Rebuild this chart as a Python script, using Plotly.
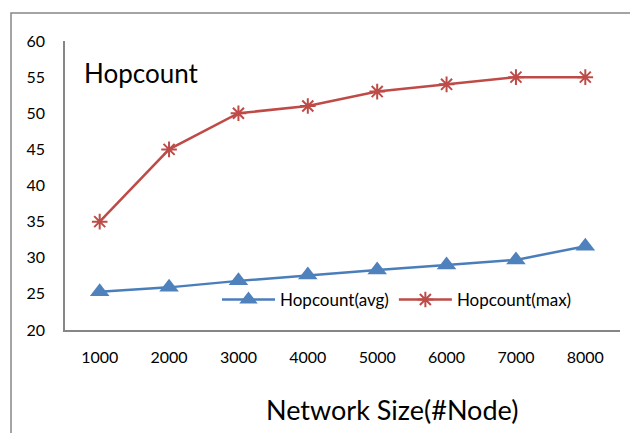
import plotly.graph_objects as go

categories = ["1000", "2000", "3000", "4000", "5000", "6000", "7000", "8000"]
hop_avg = [25.3, 25.9, 26.8, 27.6, 28.3, 29.0, 29.7, 31.6]
hop_max = [35, 45, 50, 51, 53, 54, 55, 55]
y_ticks = [20, 25, 30, 35, 40, 45, 50, 55, 60]

FONT = "Lato"
AXIS_GREY = "#868686"

# page body has an 8px margin: work in figure coordinates shifted by 8px
OFF = 8
W, H = 630, 425
L, T, R, B = 65 - OFF, 41 - OFF, 620 - OFF, 330 - OFF
PW, PH = R - L, B - T


def px(x):
    return (x - OFF - L) / PW


def py(y):
    return (B - (y - OFF)) / PH


fig = go.Figure()
fig.add_trace(go.Scatter(
    x=categories, y=hop_avg, name="Hopcount(avg)", mode="lines+markers",
    line=dict(color="#4A7EBB", width=2.5),
    marker=dict(symbol="triangle-up", size=17, color="#4F81BD"),
))
fig.add_trace(go.Scatter(
    x=categories, y=hop_max, name="Hopcount(max)", mode="lines+markers",
    line=dict(color="#BE4B48", width=2.5),
    marker=dict(symbol="asterisk-open", size=13, color="#BE4B48",
                line=dict(color="#BE4B48", width=2)),
))

fig.update_layout(
    width=W, height=H,
    margin=dict(l=L, r=W - R, t=T, b=H - B),
    paper_bgcolor="white", plot_bgcolor="white",
    font=dict(family=FONT, size=16, color="black"),
    showlegend=True,
    legend=dict(orientation="h", x=px(217), y=py(300), xanchor="left", yanchor="middle",
                font=dict(size=17, family=FONT), bgcolor="rgba(0,0,0,0)",
                itemwidth=53, tracegroupgap=0),
    xaxis=dict(type="category", range=[-0.5, 7.5], showgrid=False, zeroline=False,
               showline=True, linecolor=AXIS_GREY, linewidth=1.5, ticks="",
               ticklabelstandoff=12, tickfont=dict(size=16, family=FONT)),
    yaxis=dict(range=[20, 60], tickvals=y_ticks, showgrid=False, zeroline=False,
               showline=True, linecolor=AXIS_GREY, linewidth=1.5, ticks="",
               ticklabelstandoff=15, tickfont=dict(size=16, family=FONT)),
    shapes=[dict(type="rect", xref="paper", yref="paper",
                 x0=px(11), x1=px(680), y0=py(480), y1=py(13),
                 line=dict(color=AXIS_GREY, width=1.5), layer="below")],
    annotations=[
        dict(text="Hopcount", xref="paper", yref="paper", x=px(82),
             y=py(73), xanchor="left", yanchor="middle", showarrow=False,
             font=dict(size=26, family=FONT)),
        dict(text="Network Size(#Node)", xref="paper", yref="paper",
             x=px(392), y=py(409), xanchor="center",
             yanchor="middle", showarrow=False, font=dict(size=27, family=FONT)),
    ],
)

fig.write_html("out.html")
